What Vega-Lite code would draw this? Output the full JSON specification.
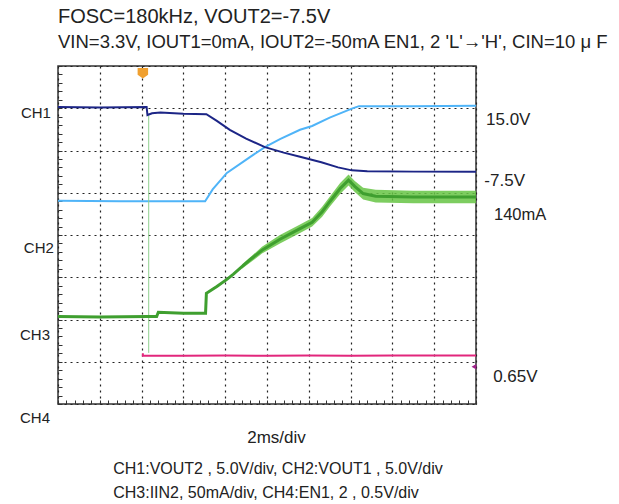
{
  "$schema": "https://vega.github.io/schema/vega-lite/v6.json",
  "width": 418,
  "height": 338,
  "autosize": "none",
  "padding": {"left": 58, "top": 66, "right": 143, "bottom": 100},
  "background": "white",
  "config": {
    "font": "Liberation Sans",
    "view": {"stroke": "#333", "strokeWidth": 1.5},
    "text": {"font": "Liberation Sans", "fontSize": 16, "color": "#222"}
  },
  "title": {
    "text": "FOSC=180kHz, VOUT2=-7.5V",
    "subtitle": "VIN=3.3V, IOUT1=0mA, IOUT2=-50mA EN1, 2 'L'→'H', CIN=10 μ F",
    "anchor": "start",
    "frame": "group",
    "fontSize": 20,
    "fontWeight": "normal",
    "color": "#222",
    "subtitleFontSize": 18.5,
    "subtitleColor": "#222",
    "subtitlePadding": 6,
    "offset": 14
  },
  "datasets": {
    "ch1": [
      {"x": 0, "y": 7.03}, {"x": 1, "y": 7.02}, {"x": 2.12, "y": 7.03}, {"x": 2.14, "y": 6.84},
      {"x": 2.25, "y": 6.88}, {"x": 2.45, "y": 6.9}, {"x": 3.0, "y": 6.87}, {"x": 3.55, "y": 6.86},
      {"x": 3.8, "y": 6.7}, {"x": 4.11, "y": 6.49}, {"x": 4.5, "y": 6.28}, {"x": 4.95, "y": 6.08},
      {"x": 5.4, "y": 5.95}, {"x": 5.79, "y": 5.85}, {"x": 6.3, "y": 5.72}, {"x": 6.7, "y": 5.6},
      {"x": 7.03, "y": 5.53}, {"x": 7.4, "y": 5.51}, {"x": 8.5, "y": 5.5}, {"x": 10, "y": 5.5}
    ],
    "ch2": [
      {"x": 0, "y": 4.81}, {"x": 1.5, "y": 4.8}, {"x": 3.52, "y": 4.8}, {"x": 3.7, "y": 5.08},
      {"x": 4.04, "y": 5.47}, {"x": 4.6, "y": 5.85}, {"x": 4.95, "y": 6.08}, {"x": 5.31, "y": 6.27},
      {"x": 5.79, "y": 6.49}, {"x": 6.08, "y": 6.58}, {"x": 6.5, "y": 6.78}, {"x": 7.03, "y": 6.99},
      {"x": 7.2, "y": 7.05}, {"x": 8.5, "y": 7.05}, {"x": 10, "y": 7.06}
    ],
    "ch3": [
      {"x": 0, "y": 2.07}, {"x": 1, "y": 2.06}, {"x": 2.15, "y": 2.07}, {"x": 2.36, "y": 2.07},
      {"x": 2.4, "y": 2.17}, {"x": 3.0, "y": 2.15}, {"x": 3.53, "y": 2.15}, {"x": 3.55, "y": 2.62},
      {"x": 3.8, "y": 2.78}, {"x": 4.04, "y": 2.95}, {"x": 4.19, "y": 3.07}, {"x": 4.4, "y": 3.25},
      {"x": 4.6, "y": 3.42}, {"x": 4.88, "y": 3.64}, {"x": 5.31, "y": 3.9}, {"x": 5.79, "y": 4.15},
      {"x": 6.08, "y": 4.3}, {"x": 6.32, "y": 4.55}, {"x": 6.51, "y": 4.8}, {"x": 6.75, "y": 5.1},
      {"x": 6.95, "y": 5.3}, {"x": 7.1, "y": 5.15}, {"x": 7.3, "y": 4.98}, {"x": 7.6, "y": 4.92},
      {"x": 8.5, "y": 4.9}, {"x": 9.5, "y": 4.9}, {"x": 10, "y": 4.9}
    ],
    "band": [
      {"x": 4.4, "lo": 3.2, "hi": 3.3}, {"x": 4.88, "lo": 3.56, "hi": 3.72}, {"x": 5.31, "lo": 3.8, "hi": 4.0},
      {"x": 5.79, "lo": 4.05, "hi": 4.25}, {"x": 6.08, "lo": 4.2, "hi": 4.4}, {"x": 6.32, "lo": 4.43, "hi": 4.67},
      {"x": 6.51, "lo": 4.68, "hi": 4.92}, {"x": 6.75, "lo": 4.97, "hi": 5.23}, {"x": 6.95, "lo": 5.17, "hi": 5.43},
      {"x": 7.1, "lo": 5.02, "hi": 5.28}, {"x": 7.3, "lo": 4.84, "hi": 5.12}, {"x": 7.6, "lo": 4.77, "hi": 5.07},
      {"x": 8.5, "lo": 4.75, "hi": 5.05}, {"x": 9.5, "lo": 4.75, "hi": 5.05}, {"x": 10, "lo": 4.75, "hi": 5.05}
    ],
    "ch4": [
      {"x": 2.03, "y": 1.2}, {"x": 2.03, "y": 1.14}, {"x": 3, "y": 1.14}, {"x": 4, "y": 1.15},
      {"x": 5, "y": 1.14}, {"x": 6, "y": 1.15}, {"x": 7, "y": 1.14}, {"x": 8, "y": 1.15},
      {"x": 9, "y": 1.15}, {"x": 10, "y": 1.15}
    ],
    "spike": [
      {"x": 2.17, "y": 6.83}, {"x": 2.17, "y": 1.21}
    ]
  },
  "layer": [
    {
      "data": {"name": "ch2"},
      "mark": {"type": "line", "color": "#4fb4f8", "strokeWidth": 2},
      "encoding": {
        "x": {
          "field": "x", "type": "quantitative",
          "scale": {"domain": [0, 10], "nice": false},
          "axis": {
            "values": [0,0.2,0.4,0.6,0.8,1,1.2,1.4,1.6,1.8,2,2.2,2.4,2.6,2.8,3,3.2,3.4,3.6,3.8,4,4.2,4.4,4.6,4.8,5,5.2,5.4,5.6,5.8,6,6.2,6.4,6.6,6.8,7,7.2,7.4,7.6,7.8,8,8.2,8.4,8.6,8.8,9,9.2,9.4,9.6,9.8,10],
            "tickCount": 200,
            "labels": false, "domain": false,
            "ticks": true, "tickSize": -4, "tickColor": "#333", "tickWidth": 1,
            "grid": true, "gridColor": "#222", "gridDash": [2, 4], "gridWidth": 1.2,
            "gridOpacity": {"condition": {"test": "datum.value % 1 === 0", "value": 1}, "value": 0},
            "title": "2ms/div", "titleFontSize": 17, "titleFontWeight": "normal", "titleColor": "#222",
            "titlePadding": 25, "titleX": 218, "titleFont": "Liberation Sans"
          }
        },
        "y": {
          "field": "y", "type": "quantitative",
          "scale": {"domain": [0, 8], "nice": false, "zero": false},
          "axis": {
            "orient": "left",
            "values": [0,0.2,0.4,0.6,0.8,1,1.2,1.4,1.6,1.8,2,2.2,2.4,2.6,2.8,3,3.2,3.4,3.6,3.8,4,4.2,4.4,4.6,4.8,5,5.2,5.4,5.6,5.8,6,6.2,6.4,6.6,6.8,7,7.2,7.4,7.6,7.8,8],
            "tickCount": 200,
            "labels": false, "domain": false,
            "ticks": true, "tickSize": -4, "tickColor": "#333", "tickWidth": 1,
            "grid": true, "gridColor": "#222", "gridDash": [2, 4], "gridWidth": 1.2,
            "gridOpacity": {"condition": {"test": "datum.value % 1 === 0", "value": 1}, "value": 0},
            "title": null
          }
        }
      }
    },
    {
      "data": {"name": "ch4"},
      "mark": {"type": "line", "color": "#e2267c", "strokeWidth": 2},
      "encoding": {
        "x": {"field": "x", "type": "quantitative"},
        "y": {"field": "y", "type": "quantitative"}
      }
    },
    {
      "data": {"name": "spike"},
      "mark": {"type": "line", "color": "#8fd08f", "strokeWidth": 1},
      "encoding": {
        "x": {"field": "x", "type": "quantitative"},
        "y": {"field": "y", "type": "quantitative"}
      }
    },
    {
      "data": {"name": "ch1"},
      "mark": {"type": "line", "color": "#1c2586", "strokeWidth": 2},
      "encoding": {
        "x": {"field": "x", "type": "quantitative"},
        "y": {"field": "y", "type": "quantitative"}
      }
    },
    {
      "data": {"name": "band"},
      "mark": {"type": "area", "color": "#66c444", "opacity": 0.85},
      "encoding": {
        "x": {"field": "x", "type": "quantitative"},
        "y": {"field": "lo", "type": "quantitative"},
        "y2": {"field": "hi"}
      }
    },
    {
      "data": {"name": "ch3"},
      "mark": {"type": "line", "color": "#3f9f2f", "strokeWidth": 3},
      "encoding": {
        "x": {"field": "x", "type": "quantitative"},
        "y": {"field": "y", "type": "quantitative"}
      }
    },
    {
      "data": {"values": [{}]},
      "mark": {"type": "point", "shape": "M-1,-1L1,-1L1,0.3L0,1L-1,0.3Z", "size": 110, "filled": true, "color": "#f0a030", "opacity": 1},
      "encoding": {
        "x": {"datum": 2.03, "type": "quantitative"},
        "y": {"datum": 7.83, "type": "quantitative"}
      }
    },
    {
      "data": {"values": [{}]},
      "mark": {"type": "point", "shape": "triangle-left", "size": 30, "filled": true, "color": "#a0208a", "opacity": 1},
      "encoding": {
        "x": {"datum": 9.95, "type": "quantitative"},
        "y": {"datum": 0.88, "type": "quantitative"}
      }
    },
    {
      "data": {"values": [{}]},
      "layer": [
        {"mark": {"type": "text", "align": "right", "baseline": "middle", "text": "CH1", "fontSize": 15},
         "encoding": {"x": {"datum": -0.17, "type": "quantitative"}, "y": {"datum": 6.88, "type": "quantitative"}}},
        {"mark": {"type": "text", "align": "right", "baseline": "middle", "text": "CH2", "fontSize": 15},
         "encoding": {"x": {"datum": -0.1, "type": "quantitative"}, "y": {"datum": 3.7, "type": "quantitative"}}},
        {"mark": {"type": "text", "align": "right", "baseline": "middle", "text": "CH3", "fontSize": 15},
         "encoding": {"x": {"datum": -0.19, "type": "quantitative"}, "y": {"datum": 1.63, "type": "quantitative"}}},
        {"mark": {"type": "text", "align": "right", "baseline": "middle", "text": "CH4", "fontSize": 15},
         "encoding": {"x": {"datum": -0.19, "type": "quantitative"}, "y": {"datum": -0.33, "type": "quantitative"}}},
        {"mark": {"type": "text", "align": "left", "baseline": "middle", "text": "15.0V", "fontSize": 17},
         "encoding": {"x": {"datum": 10.24, "type": "quantitative"}, "y": {"datum": 6.72, "type": "quantitative"}}},
        {"mark": {"type": "text", "align": "left", "baseline": "middle", "text": "-7.5V", "fontSize": 17},
         "encoding": {"x": {"datum": 10.2, "type": "quantitative"}, "y": {"datum": 5.28, "type": "quantitative"}}},
        {"mark": {"type": "text", "align": "left", "baseline": "middle", "text": "140mA", "fontSize": 16.5},
         "encoding": {"x": {"datum": 10.43, "type": "quantitative"}, "y": {"datum": 4.47, "type": "quantitative"}}},
        {"mark": {"type": "text", "align": "left", "baseline": "middle", "text": "0.65V", "fontSize": 17},
         "encoding": {"x": {"datum": 10.41, "type": "quantitative"}, "y": {"datum": 0.64, "type": "quantitative"}}},
        {"mark": {"type": "text", "align": "left", "baseline": "middle", "text": ["CH1:VOUT2 , 5.0V/div, CH2:VOUT1 , 5.0V/div", "CH3:IIN2, 50mA/div, CH4:EN1, 2  , 0.5V/div"], "lineHeight": 24, "fontSize": 16},
         "encoding": {"x": {"datum": 1.32, "type": "quantitative"}, "y": {"datum": -1.53, "type": "quantitative"}}}
      ]
    }
  ]
}
